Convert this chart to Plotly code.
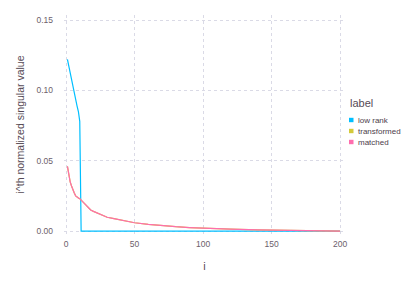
import plotly.graph_objects as go

# Data
low_rank_i = [1, 2, 3, 4, 5, 6, 7, 8, 9, 10, 11, 200]
low_rank_v = [0.122, 0.117, 0.112, 0.107, 0.103, 0.098, 0.093, 0.089, 0.085, 0.078, 0.0, 0.0]

matched_i = [1, 2, 3, 4, 5, 6, 7, 8, 9, 10, 12, 14, 16, 18, 20, 25, 30, 35, 40, 45, 50,
             60, 70, 80, 90, 100, 120, 140, 160, 180, 200]
matched_v = [0.046, 0.040, 0.035, 0.032, 0.029, 0.027, 0.025, 0.024, 0.0235, 0.023, 0.021,
             0.019, 0.017, 0.015, 0.014, 0.012, 0.0098, 0.0088, 0.0079, 0.0068, 0.0059,
             0.0048, 0.0038, 0.0031, 0.0025, 0.0020, 0.0013, 0.0009, 0.0006, 0.0003, 0.0]

transformed_i = matched_i
transformed_v = matched_v

labels = ["low rank", "transformed", "matched"]
colors = ["#00BFFF", "#D4CA3A", "#FF6DAE"]

x_ticks = [0, 50, 100, 150, 200]
y_ticks = [0.0, 0.05, 0.10, 0.15]
y_tick_text = ["0.00", "0.05", "0.10", "0.15"]

FONT = "Liberation Sans, Arial, sans-serif"

# page body has an 8px margin; figure sized to fit the 415x294 window
OFF = 8
FW, FH = 415 - 2 * OFF, 294 - 2 * OFF
# plot area in window pixels
L, R, T, B = 64, 345, 15, 234
W, H = R - L, B - T


def px_x(p):
    return (p - L) / W


def px_y(p):
    return (B - p) / H


fig = go.Figure()
series = [(low_rank_i, low_rank_v), (transformed_i, transformed_v), (matched_i, matched_v)]
for (xs, ys), name, c in zip(series, labels, colors):
    fig.add_trace(go.Scatter(x=xs, y=ys, mode="lines", name=name,
                             line=dict(color=c, width=1.2), showlegend=False))

grid = dict(showgrid=True, gridcolor="#DADAE6", griddash="dot", gridwidth=1,
            zeroline=False, showline=False, ticks="",
            tickfont=dict(family=FONT, size=8.5, color="#6c606b"))

annotations = [dict(text="label", x=px_x(348), y=px_y(103), xref="paper", yref="paper",
                    xanchor="left", yanchor="middle", showarrow=False,
                    font=dict(family=FONT, size=11, color="#564a55"))]
shapes = []
for k, (name, c) in enumerate(zip(labels, colors)):
    cy = 120 + 11 * k
    annotations.append(dict(text=name, x=px_x(356), y=px_y(cy), xref="paper", yref="paper",
                            xanchor="left", yanchor="middle", showarrow=False,
                            font=dict(family=FONT, size=8, color="#4c404b")))
    shapes.append(dict(type="rect", xref="paper", yref="paper",
                       x0=px_x(349), x1=px_x(353.5), y0=px_y(cy + 2.2), y1=px_y(cy - 2.2),
                       fillcolor=c, line=dict(width=0)))

fig.update_layout(
    width=FW, height=FH,
    margin=dict(l=L - OFF, r=415 - OFF - R, t=T - OFF, b=294 - OFF - B, autoexpand=False),
    paper_bgcolor="white", plot_bgcolor="white",
    font=dict(family=FONT),
    showlegend=False,
    xaxis=dict(range=[-1.5, 203.6], tickvals=x_ticks, ticklabelstandoff=3,
               title=dict(text="i", font=dict(family=FONT, size=11, color="#564a55"), standoff=14),
               **grid),
    yaxis=dict(range=[-0.0021, 0.1536], tickvals=y_ticks, ticktext=y_tick_text,
               ticklabelstandoff=10,
               title=dict(text="i^th normalized singular value",
                          font=dict(family=FONT, size=10.5, color="#564a55"), standoff=9),
               **grid),
    annotations=annotations,
    shapes=shapes,
)

fig.write_html("out.html")
